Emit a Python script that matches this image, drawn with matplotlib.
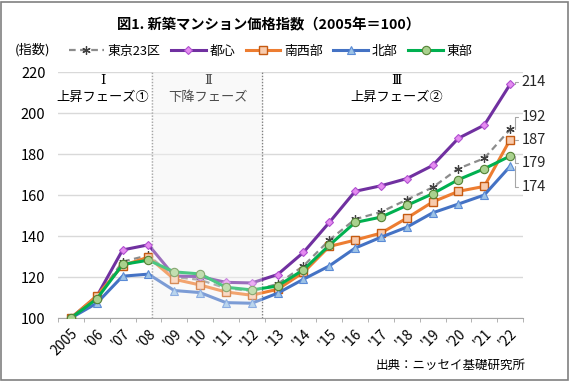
import matplotlib
matplotlib.use('Agg')
import matplotlib.pyplot as plt
from matplotlib.patches import Rectangle
import numpy as np

plt.rcParams['font.family'] = ['Noto Sans CJK JP', 'DejaVu Sans']

years = ['2005', "'06", "'07", "'08", "'09", "'10", "'11", "'12", "'13",
         "'14", "'15", "'16", "'17", "'18", "'19", "'20", "'21", "'22"]

tokyo23 = [100, 110, 127.5, 130.6, 120.0, 118.6, 114.5, 113.2, 116.6,
           125.4, 138.0, 148.2, 151.7, 157.7, 163.7, 172.9, 177.9, 192]
toshin = [100, 110.5, 133.2, 135.7, 120.5, 120.2, 117.4, 117.1, 121.2,
          132.0, 146.6, 161.8, 164.5, 168.0, 174.4, 187.7, 194.1, 214]
nansei = [100, 110.8, 125.6, 129.7, 118.9, 116.1, 112.7, 111.1, 114.0,
          122.2, 134.9, 138.0, 141.4, 148.7, 156.6, 161.8, 164.2, 187]
hokubu = [100, 107.2, 120.4, 121.4, 113.4, 112.4, 107.5, 107.2, 112.1,
          118.9, 125.4, 134.1, 139.4, 144.3, 151.3, 155.6, 160.0, 174]
toubu = [100, 109.3, 126.1, 128.2, 122.5, 121.5, 115.0, 113.7, 115.6,
         123.5, 135.5, 146.6, 149.2, 154.9, 160.6, 167.5, 172.8, 179]

end_labels = ['214', '192', '187', '179', '174']

x = np.arange(len(years))

fig = plt.figure(figsize=(5.71, 3.83), dpi=100)
ax = fig.add_axes([0.1016, 0.1697, 0.8144, 0.6423])

# phase II shading + dividers
ax.axvspan(3.15, 7.38, color='#f7f7f7', zorder=0)
ax.axvline(3.15, color='#808080', ls=(0, (1, 1.2)), lw=1, zorder=1)
ax.axvline(7.38, color='#808080', ls=(0, (1, 1.2)), lw=1, zorder=1)

ax.plot(x, tokyo23, color='#8c8c8c', ls=(0, (3, 2)), lw=1.6, marker=(6, 2, 0),
        ms=6, mec='#404040', mew=0.9, label='東京23区', zorder=3)
ax.plot(x, toshin, color='#7030A0', lw=2.2, marker='D', ms=4,
        mfc='#E58CF0', mec='#B050D0', mew=0.8, label='都心', zorder=3)
ax.plot(x, nansei, color='#ED7D31', lw=2.2, marker='s', ms=6,
        mfc='#F8CBAD', mec='#C55A11', mew=1, label='南西部', zorder=3)
ax.plot(x, hokubu, color='#4472C4', lw=2.2, marker='^', ms=6,
        mfc='#9DC3E6', mec='#5B8BD6', mew=0.8, label='北部', zorder=3)
ax.plot(x, toubu, color='#00B050', lw=2.2, marker='o', ms=6,
        mfc='#A9D18E', mec='#548235', mew=0.8, label='東部', zorder=3)

# lighten the lines inside phase II
ax.axvspan(3.15, 7.38, color='white', alpha=0.3, lw=0, zorder=4)

ax.set_xlim(-0.5, 17.5)
ax.set_ylim(100, 220)
ax.set_yticks(range(100, 221, 20))
ax.yaxis.grid(True, color='#d9d9d9', lw=1)
ax.set_axisbelow(True)
ax.set_xticks(x)
ax.set_xticklabels(years, rotation=45, ha='right', rotation_mode='anchor',
                   fontsize=10)
ax.set_xticks(np.arange(-0.5, 17.6, 1), minor=True)
ax.tick_params(axis='x', which='major', length=0, pad=6)
ax.tick_params(axis='x', which='minor', length=3, color='#a6a6a6')
ax.tick_params(axis='y', length=0, labelsize=10.5, pad=9)
for s in ['top', 'right', 'left']:
    ax.spines[s].set_visible(False)
ax.spines['bottom'].set_color('#a6a6a6')

# phase labels
ax.text(1.25, 216, 'Ⅰ', ha='center', va='center', fontsize=9.5, family='DejaVu Serif')
ax.text(1.25, 207.5, '上昇フェーズ①', ha='center', va='center', fontsize=9.5)
ax.text(5.3, 216, 'Ⅱ', ha='center', va='center', fontsize=9.5, family='DejaVu Serif')
ax.text(5.3, 207.5, '下降フェーズ', ha='center', va='center', fontsize=9.5)
ax.text(12.6, 216, 'Ⅲ', ha='center', va='center', fontsize=9.5, family='DejaVu Serif')
ax.text(12.6, 207.5, '上昇フェーズ②', ha='center', va='center', fontsize=9.5)

# end labels with leader lines
label_y = [215, 198, 186.8, 175.6, 164]
ends = [toshin[-1], tokyo23[-1], nansei[-1], toubu[-1], hokubu[-1]]
for txt, ly, vy in zip(end_labels, label_y, ends):
    ax.annotate(txt, xy=(17.2, vy), xytext=(17.45, ly), textcoords='data',
                va='center', ha='left', fontsize=10.5, color='#262626',
                annotation_clip=False,
                arrowprops=dict(arrowstyle='-', color='#a6a6a6', lw=0.8,
                                shrinkA=1, shrinkB=0,
                                connectionstyle='angle,angleA=0,angleB=90,rad=0'))

# legend
ax.legend(loc='center left', bbox_to_anchor=(0.012, 1.085), ncol=5, frameon=False,
          fontsize=9.3, handlelength=2.7, handletextpad=0.3, columnspacing=0.8,
          borderaxespad=0)
fig.text(0.026, 0.869, '(指数)', fontsize=9.5, va='center', ha='left')

fig.text(0.47, 0.935, '図1. 新築マンション価格指数（2005年＝100）', fontsize=10.3,
         fontweight='bold', ha='center', va='center')
fig.text(0.92, 0.047, '出典：ニッセイ基礎研究所', fontsize=9, ha='right', va='center')

fig.patches.append(Rectangle((0.0026, 0.009), 0.9914, 0.987, transform=fig.transFigure,
                             fill=False, edgecolor='#808080', lw=1.2))

fig.savefig('out.png', dpi=100)
